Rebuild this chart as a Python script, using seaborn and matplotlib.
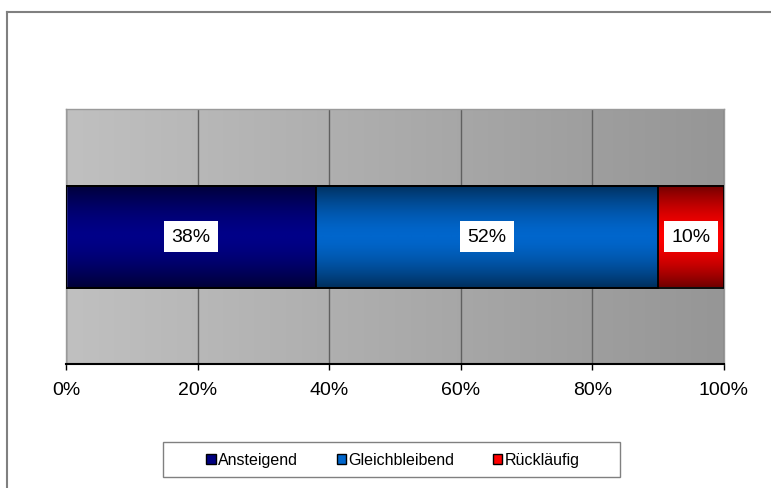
import numpy as np
import pandas as pd
import matplotlib
matplotlib.use("Agg")
import matplotlib.pyplot as plt
import seaborn as sns
from matplotlib.patches import Patch, Rectangle
from matplotlib.lines import Line2D
from matplotlib.colors import LinearSegmentedColormap

# ---- data ----
categories = ["Ansteigend", "Gleichbleibend", "Rückläufig"]
values = [38, 52, 10]
label_texts = ["38%", "52%", "10%"]
tick_values = [0, 20, 40, 60, 80, 100]
tick_labels = ["0%", "20%", "40%", "60%", "80%", "100%"]

# ---- styles ----
center_colors = ["#000088", "#0066cc", "#ff0000"]
edge_colors = ["#000038", "#00305e", "#700000"]
legend_colors = ["#000080", "#0066cc", "#ff0000"]

plt.rcParams["font.family"] = ["Liberation Sans", "DejaVu Sans"]

W, H = 771, 489
fig = plt.figure(figsize=(W / 100, H / 100), dpi=100)
ax = fig.add_axes([66 / W, 1 - 365 / H, (724 - 66) / W, (365 - 110) / H])

cum = np.cumsum(values)
starts = cum - np.array(values)
df = pd.DataFrame({"Serie": categories, "Ende": cum, "Start": starts, "row": ["Alle"] * len(values)})

# stacked bar: draw cumulative totals from largest to smallest
for i in reversed(range(len(values))):
    sns.barplot(data=df.iloc[[i]], x="Ende", y="row", orient="h",
                color=center_colors[i], width=0.4, ax=ax,
                edgecolor="black", linewidth=1.3, zorder=3)

# gradient fills per segment
grad = np.abs(np.linspace(-1, 1, 256)) ** 1.6
grad = grad.reshape(-1, 1)
bar_patches = list(ax.patches)
y0 = bar_patches[0].get_y()
y1 = y0 + bar_patches[0].get_height()
for i in range(len(values)):
    cmap = LinearSegmentedColormap.from_list(f"g{i}", [center_colors[i], edge_colors[i]])
    ax.imshow(grad, cmap=cmap, aspect="auto", interpolation="bilinear",
              extent=(starts[i], cum[i], y1, y0), zorder=2, vmin=0, vmax=1)
for p in bar_patches:
    p.set_facecolor("none")

# background gradient of plot area
bg = np.linspace(0, 1, 256).reshape(1, -1)
bg_cmap = LinearSegmentedColormap.from_list("bg", ["#c0c0c0", "#969696"])
ax.imshow(bg, cmap=bg_cmap, aspect="auto", extent=(0, 1, 0, 1),
          transform=ax.transAxes, zorder=0)

ax.set_xlim(0, 100)
ax.set_ylim(0.5, -0.5)
ax.set_xticks(tick_values)
ax.set_xticklabels(tick_labels)
ax.set_yticks([])
ax.set_xlabel("")
ax.set_ylabel("")
ax.set_axisbelow(True)
ax.xaxis.grid(True, color="#606060", linewidth=1)
ax.tick_params(axis="x", direction="out", length=4, width=1, color="black",
               labelsize=14, pad=8)
for s in ["top", "left", "right"]:
    ax.spines[s].set_color("#9a9a9a")
    ax.spines[s].set_linewidth(1)
ax.spines["bottom"].set_color("black")
ax.spines["bottom"].set_linewidth(1.5)

# value labels
for i, txt in enumerate(label_texts):
    ax.text(starts[i] + values[i] / 2, 0, txt, ha="center", va="center",
            fontsize=14, color="black", zorder=6,
            bbox=dict(boxstyle="square,pad=0.38", fc="white", ec="none"))

# legend (frame drawn separately)
fig.add_artist(Rectangle((163 / W, 1 - 478 / H), (620 - 163) / W, (478 - 443) / H,
                         transform=fig.transFigure, facecolor="white",
                         edgecolor="#808080", linewidth=1, zorder=1))
handles = [Patch(facecolor=c, edgecolor="black", linewidth=1) for c in legend_colors]
leg = fig.legend(handles, categories, loc="center",
                 bbox_to_anchor=(393 / W, 1 - 461 / H), ncol=3,
                 frameon=False, fontsize=11.5, handlelength=0.6, handleheight=0.6,
                 handletextpad=0.15, columnspacing=2.4, borderpad=0.3,
                 borderaxespad=0)
leg.set_zorder(2)

# outer chart border (partially visible)
fig.add_artist(Line2D([7 / W, 7 / W], [0, 1 - 13 / H], transform=fig.transFigure,
                      color="#808080", linewidth=1.5))
fig.add_artist(Line2D([7 / W, 1], [1 - 13 / H, 1 - 13 / H], transform=fig.transFigure,
                      color="#808080", linewidth=1.5))

fig.savefig("out.png", dpi=100)
